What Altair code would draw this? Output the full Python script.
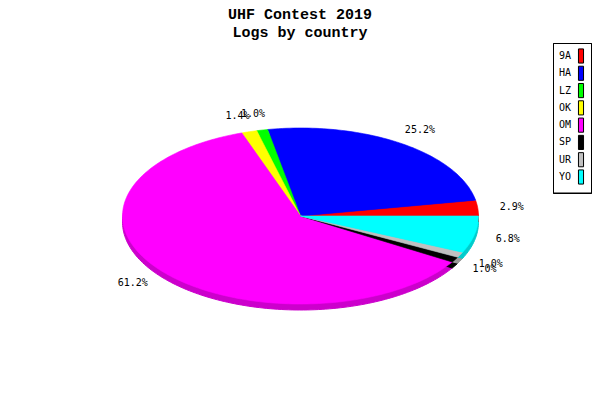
import math
import altair as alt
import pandas as pd

categories = ["9A", "HA", "LZ", "OK", "OM", "SP", "UR", "YO"]
values = [2.9, 25.2, 1.0, 1.4, 61.2, 1.0, 1.0, 6.8]
labels = ["2.9%", "25.2%", "1.0%", "1.4%", "61.2%", "1.0%", "1.0%", "6.8%"]
colors = ["#ff0000", "#0000ff", "#00ff00", "#ffff00", "#ff00ff", "#000000", "#c0c0c0", "#00ffff"]
dark = ["#cc0000", "#0000cc", "#00cc00", "#cccc00", "#cc00cc", "#000000", "#999999", "#00cccc"]

CX, CY, RX, RY, DEPTH = 292.5, 168, 178, 88, 6
total = sum(values)
rows, text_rows = [], []
start = 0.0
for i, (c, v) in enumerate(zip(categories, values)):
    a0 = start / total * 2 * math.pi
    a1 = (start + v) / total * 2 * math.pi
    n = max(3, int(v * 3))
    rows.append(dict(cat=c, dark=dark[i], k=0, x=0.0, y=0.0, y2=-DEPTH / RY))
    for k in range(n + 1):
        t = a0 + (a1 - a0) * k / n
        rows.append(dict(cat=c, dark=dark[i], k=k + 1, x=math.cos(t), y=math.sin(t),
                         y2=math.sin(t) - DEPTH / RY))
    mid = (a0 + a1) / 2
    text_rows.append(dict(x=1.2 * math.cos(mid), y=1.2 * math.sin(mid), label=labels[i]))
    start += v
df = pd.DataFrame(rows)
tf = pd.DataFrame(text_rows)
lg = pd.DataFrame({"cat": categories})

xs = alt.Scale(domain=[-1, 1], range=[CX - RX, CX + RX])
ys = alt.Scale(domain=[-1, 1], range=[CY + RY, CY - RY])
noax = dict(axis=None)
cat_scale = alt.Scale(domain=categories, range=colors)

side = (alt.Chart(df).mark_line(interpolate="linear-closed", strokeWidth=1).encode(
    x=alt.X("x:Q", scale=xs, **noax),
    y=alt.Y("y2:Q", scale=ys, **noax),
    detail="cat:N",
    order="k:Q",
    fill=alt.Fill("dark:N", scale=None),
    stroke=alt.Stroke("dark:N", scale=None),
))

top = (alt.Chart(df).mark_line(interpolate="linear-closed", strokeWidth=0.6).encode(
    x=alt.X("x:Q", scale=xs, **noax),
    y=alt.Y("y:Q", scale=ys, **noax),
    order="k:Q",
    fill=alt.Fill("cat:N", scale=cat_scale, legend=None),
    stroke=alt.Stroke("cat:N", scale=cat_scale, legend=None),
))

text = (alt.Chart(tf).mark_text(font="DejaVu Sans Mono", fontSize=10, color="#000000",
                                dx=-1.5, dy=1).encode(
    x=alt.X("x:Q", scale=xs, **noax),
    y=alt.Y("y:Q", scale=ys, **noax),
    text="label:N",
))

ly = alt.Y("cat:N", sort=categories, axis=None,
           scale=alt.Scale(domain=categories, range=[8, 129], padding=0))
frame = alt.Chart(lg).mark_rect(fill="#ffffff", stroke="#000000", strokeWidth=1).encode(
    x=alt.value(545.5), x2=alt.value(583.5), y=alt.value(-4.5), y2=alt.value(145))
swatch = (alt.Chart(lg).mark_point(shape="M-0.36,-1H0.36V1H-0.36Z", size=200, filled=True,
                                   stroke="#000000", strokeWidth=1, opacity=1).encode(
    x=alt.value(573), y=ly,
    fill=alt.Fill("cat:N", scale=cat_scale, legend=None),
))
ltext = alt.Chart(lg).mark_text(font="DejaVu Sans Mono", fontSize=10, align="left",
                                color="#000000").encode(
    x=alt.value(551), y=ly, text="cat:N")

chart = (alt.layer(side, top, text, frame, swatch, ltext)
    .resolve_scale(fill="independent", stroke="independent", y="independent", x="independent")
    .properties(
        width=584, height=344,
        background="#ffffff",
        title=alt.TitleParams(text=["UHF Contest 2019", "Logs by country"],
                              font="Liberation Mono", fontSize=15, fontWeight="bold",
                              color="#000000", lineHeight=18, anchor="middle", offset=3),
        padding={"left": 0, "right": 0, "top": 40, "bottom": 0},
        autosize=alt.AutoSizeParams(type="none"),
    ).configure_view(stroke=None))

chart.save("out.html", embed_options={"renderer": "svg", "actions": False})
